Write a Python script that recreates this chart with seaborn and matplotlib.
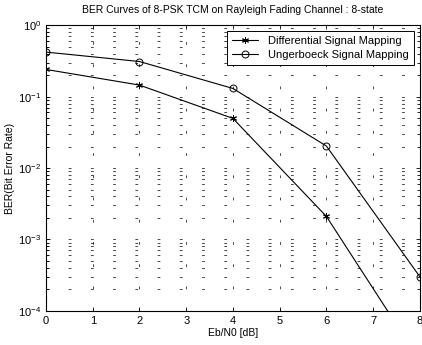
import matplotlib
matplotlib.use("Agg")
import matplotlib.pyplot as plt
import seaborn as sns
import numpy as np

# ─── DATA ───────────────────────────────────────────────────────────────────
ebno = [0, 2, 4, 6, 8]
ber_differential = [0.24, 0.145, 0.0495, 0.0021, 2.0e-5]
ber_ungerboeck = [0.42, 0.31, 0.13, 0.0203, 3.0e-4]
labels = ["Differential Signal Mapping", "Ungerboeck Signal Mapping"]

# ─── PLOT ───────────────────────────────────────────────────────────────────
sns.set_style("white")
plt.rcParams["font.family"] = ["Liberation Sans", "DejaVu Sans"]
for key in ["text.color", "axes.labelcolor", "xtick.color", "ytick.color"]:
    plt.rcParams[key] = "black"

fig = plt.figure(figsize=(4.22, 3.45), dpi=100)
ax = fig.add_axes([0.109, 0.099, 0.886, 0.828])

# asterisk marker, like matlab '*'
sns.lineplot(x=ebno, y=ber_differential, ax=ax, color="black", linewidth=0.8,
             marker=(6, 2, 0), markersize=5, markeredgewidth=0.7,
             markeredgecolor="black", label=labels[0])
sns.lineplot(x=ebno, y=ber_ungerboeck, ax=ax, color="black", linewidth=0.8,
             marker="o", markersize=5, markerfacecolor="none",
             markeredgecolor="black", markeredgewidth=0.7, label=labels[1])

ax.set_yscale("log")
ax.set_xlim(0, 8)
ax.set_ylim(1e-4, 1)
ax.set_xticks(range(0, 9))

grid_style = dict(color="black", linestyle=(0, (4, 28)), linewidth=0.5)
ax.grid(True, which="major", axis="both", **grid_style)
ax.grid(True, which="minor", axis="y", **grid_style)

ax.tick_params(direction="in", which="both", top=True, right=True,
               bottom=True, left=True, labelsize=8, length=3, width=0.6,
               colors="black")
ax.tick_params(which="minor", length=2)
for s in ax.spines.values():
    s.set_color("black")
    s.set_linewidth(0.8)

ax.set_title("BER Curves of 8-PSK TCM on Rayleigh Fading Channel : 8-state",
             fontsize=7.5, pad=9)
ax.set_xlabel("Eb/N0 [dB]", fontsize=7.5, labelpad=2)
ax.set_ylabel("BER(Bit Error Rate)", fontsize=7.5, labelpad=2)

leg = ax.legend(loc="upper right", fontsize=8, frameon=True, fancybox=False,
                borderaxespad=0.5, handlelength=2.3, borderpad=0.5,
                labelspacing=0.3, handletextpad=0.9)
leg.get_frame().set_edgecolor("black")
leg.get_frame().set_linewidth(0.7)
leg.get_frame().set_alpha(1)

fig.savefig("out.png", dpi=100)
